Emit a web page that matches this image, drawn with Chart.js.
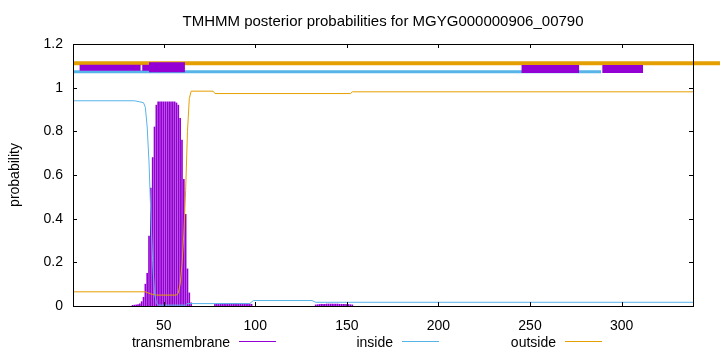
<!DOCTYPE html>
<html>
<head>
<meta charset="utf-8">
<script src="https://cdn.jsdelivr.net/npm/chart.js@4.4.0/dist/chart.umd.min.js"></script>
<style>
  html, body { margin: 0; padding: 0; background: #fff; }
</style>
</head>
<body>
<canvas id="tmhmm" width="720" height="352"></canvas>
<script>
// values
var title = 'TMHMM posterior probabilities for MGYG000000906_00790';
var xTicks = [50, 100, 150, 200, 250, 300];
var yTicks = [0, 0.2, 0.4, 0.6, 0.8, 1, 1.2];
var yTickLabels = ['0', '0.2', '0.4', '0.6', '0.8', '1', '1.2'];
var legendLabels = ['transmembrane', 'inside', 'outside'];

// transmembrane posterior, one impulse per residue (others ~0)
var tmPos = [33, 34, 35, 36, 37, 38, 39, 40, 41, 42, 43, 44, 45, 46, 47, 48, 49, 50, 51, 52,
  53, 54, 55, 56, 57, 58, 59, 60, 61, 62, 63, 64, 65,
  78, 79, 80, 81, 82, 83, 84, 85, 86, 87, 88, 89, 90, 91, 92, 93, 94, 95, 96, 97, 98,
  133, 134, 135, 136, 137, 138, 139, 140, 141, 142, 143, 144, 145, 146, 147, 148, 149, 150, 151, 152, 153];
var tmProb = [0.003, 0.004, 0.005, 0.007, 0.01, 0.02, 0.04, 0.1, 0.15, 0.32, 0.54, 0.68, 0.82, 0.92, 0.935, 0.935, 0.935, 0.935, 0.935, 0.935,
  0.935, 0.935, 0.935, 0.935, 0.93, 0.92, 0.86, 0.76, 0.58, 0.42, 0.17, 0.06, 0.015,
  0.008, 0.009, 0.01, 0.01, 0.011, 0.011, 0.011, 0.012, 0.012, 0.012, 0.012, 0.012, 0.012, 0.011, 0.011, 0.011, 0.01, 0.01, 0.01, 0.009, 0.008,
  0.005, 0.006, 0.007, 0.008, 0.008, 0.008, 0.009, 0.009, 0.009, 0.009, 0.009, 0.009, 0.009, 0.008, 0.008, 0.008, 0.008, 0.007, 0.007, 0.006, 0.005];

// inside / outside posterior (residue, probability) at the bends of the curves
var insideX = [0.5, 34, 37, 39, 40, 41, 42, 43, 44, 45, 46, 47, 62, 63, 97, 99, 131, 133, 339];
var insideY = [0.94, 0.94, 0.935, 0.931, 0.91, 0.82, 0.66, 0.42, 0.2, 0.06, 0.015, 0.004, 0.004, 0.011, 0.011, 0.025, 0.025, 0.017, 0.017];
var outsideX = [0.5, 40, 43, 46, 57, 58, 59, 60, 61, 62, 63, 64, 65, 77, 78, 152, 153, 339];
var outsideY = [0.065, 0.065, 0.055, 0.05, 0.05, 0.06, 0.1, 0.19, 0.33, 0.53, 0.8, 0.95, 0.984, 0.984, 0.973, 0.973, 0.981, 0.981];

// predicted topology bars above the curves
var topoOutside = [0.5, 400];
var topoOutsideLevel = 1.112;
var topoInside = [0.5, 288.8];
var topoInsideLevel = 1.073;
var topoTm = [[4.1, 37.4], [38.3, 42], [42, 61.6], [245.4, 276.8], [289.5, 311.7]];
var topoTmLevel = [1.091, 1.091, 1.094, 1.085, 1.085];

var TM_COLOR = '#9400d3';
var IN_COLOR = '#56b4e9';
var OUT_COLOR = '#e69f00';
var FONT = '"Liberation Sans", Arial, sans-serif';
var boxWidths = [6, 6, 10, 8, 8];

function pts(xs, ys) {
  return xs.map(function(x, i) { return {x: x, y: ys[i]}; });
}

var datasets = [];

topoTm.forEach(function(seg, i) {
  datasets.push({
    type: 'line',
    data: [{x: seg[0], y: topoTmLevel[i]}, {x: seg[1], y: topoTmLevel[i]}],
    borderColor: TM_COLOR,
    borderWidth: boxWidths[i],
    pointRadius: 0,
    order: 0
  });
});

datasets.push({
  type: 'line',
  data: [{x: topoInside[0], y: topoInsideLevel}, {x: topoInside[1], y: topoInsideLevel}],
  borderColor: IN_COLOR,
  borderWidth: 3,
  pointRadius: 0,
  order: 1
});

datasets.push({
  type: 'line',
  data: [{x: topoOutside[0], y: topoOutsideLevel}, {x: topoOutside[1], y: topoOutsideLevel}],
  borderColor: OUT_COLOR,
  borderWidth: 4,
  pointRadius: 0,
  clip: false,
  order: 2
});

datasets.push({
  type: 'line',
  label: 'inside',
  data: pts(insideX, insideY),
  borderColor: IN_COLOR,
  borderWidth: 1,
  pointRadius: 0,
  tension: 0,
  order: 3
});

datasets.push({
  type: 'line',
  label: 'outside',
  data: pts(outsideX, outsideY),
  borderColor: OUT_COLOR,
  borderWidth: 1,
  pointRadius: 0,
  tension: 0,
  order: 3
});

datasets.push({
  type: 'bar',
  label: 'transmembrane',
  data: pts(tmPos, tmProb),
  backgroundColor: TM_COLOR,
  borderWidth: 0,
  barThickness: 1,
  order: 4
});

// frame with inward ticks on all four sides, title over the plot, gnuplot style key
var framePlugin = {
  id: 'frame',
  afterDraw: function(chart) {
    var ctx = chart.ctx, a = chart.chartArea;
    var xs = chart.scales.x, ys = chart.scales.y;
    ctx.save();
    ctx.strokeStyle = '#000';
    ctx.lineWidth = 1;
    ctx.beginPath();
    xTicks.forEach(function(v) {
      var px = Math.round(xs.getPixelForValue(v)) + 0.5;
      ctx.moveTo(px, a.bottom); ctx.lineTo(px, a.bottom - 4);
      ctx.moveTo(px, a.top); ctx.lineTo(px, a.top + 4);
    });
    yTicks.forEach(function(v) {
      var py = Math.round(ys.getPixelForValue(v)) + 0.5;
      ctx.moveTo(a.left, py); ctx.lineTo(a.left + 4, py);
      ctx.moveTo(a.right, py); ctx.lineTo(a.right - 4, py);
    });
    ctx.stroke();
    ctx.strokeRect(Math.round(a.left) + 0.5, Math.round(a.top) + 0.5,
      Math.round(a.right - a.left), Math.round(a.bottom - a.top));

    ctx.fillStyle = '#000';
    ctx.textBaseline = 'middle';
    ctx.textAlign = 'center';
    ctx.font = '15px ' + FONT;
    ctx.fillText(title, (a.left + a.right) / 2, 22);

    var colors = [TM_COLOR, IN_COLOR, OUT_COLOR];
    ctx.font = '14px ' + FONT;
    ctx.textAlign = 'right';
    legendLabels.forEach(function(lab, i) {
      var x0 = 239 + 163 * i;
      ctx.fillText(lab, x0 - 9, 343);
      ctx.strokeStyle = colors[i];
      ctx.beginPath();
      ctx.moveTo(x0, 341.5);
      ctx.lineTo(x0 + 37, 341.5);
      ctx.stroke();
    });
    ctx.restore();
  }
};

Chart.defaults.font.family = FONT;
Chart.defaults.font.size = 14;
Chart.defaults.color = '#000';

new Chart(document.getElementById('tmhmm'), {
  type: 'line',
  data: { datasets: datasets },
  options: {
    responsive: false,
    animation: false,
    devicePixelRatio: 1,
    layout: { padding: { left: 0, right: 27, top: 44, bottom: 0 } },
    plugins: {
      legend: { display: false },
      tooltip: { enabled: false },
      title: { display: false }
    },
    scales: {
      x: {
        type: 'linear',
        min: 0.5,
        max: 339,
        offset: false,
        grid: { display: false, drawTicks: false },
        border: { display: false },
        afterFit: function(scale) { scale.height = 46; },
        afterBuildTicks: function(scale) {
          scale.ticks = xTicks.map(function(v) { return {value: v}; });
        },
        ticks: {
          autoSkip: false,
          maxRotation: 0,
          padding: 12,
          callback: function(v) { return String(v); }
        }
      },
      y: {
        min: 0,
        max: 1.2,
        grid: { display: false, drawTicks: false },
        border: { display: false },
        afterFit: function(scale) { scale.width = 73; },
        afterBuildTicks: function(scale) {
          scale.ticks = yTicks.map(function(v) { return {value: v}; });
        },
        ticks: {
          padding: 10,
          callback: function(v, i) { return yTickLabels[i]; }
        },
        title: {
          display: true,
          text: 'probability',
          font: { size: 14 },
          padding: { top: 7, bottom: 0 }
        }
      }
    }
  },
  plugins: [framePlugin]
});
</script>
</body>
</html>
